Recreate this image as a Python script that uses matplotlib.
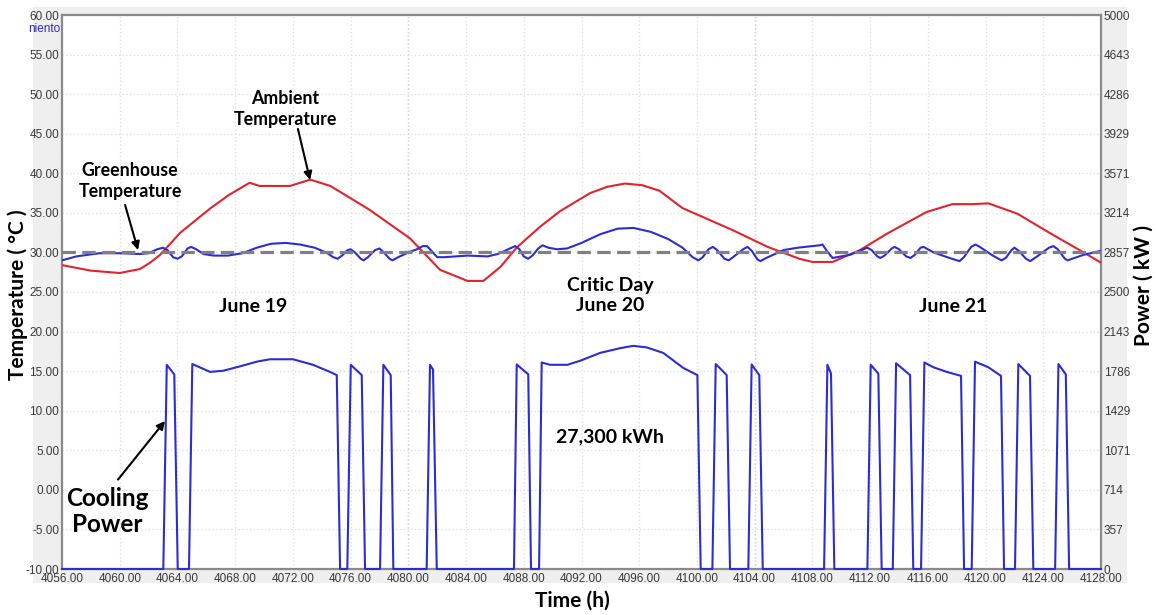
import matplotlib
matplotlib.use("Agg")
import matplotlib.pyplot as plt
from matplotlib.patches import Rectangle

# ---------------- data ----------------
ambient_hours = [4056.0, 4058.0, 4060.0, 4061.4, 4062.1, 4062.8, 4064.2, 4066.3, 4067.6, 4069.0,
                 4069.7, 4071.8, 4073.2, 4074.6, 4077.3, 4080.1, 4082.2, 4084.1, 4085.2, 4086.4,
                 4087.5, 4089.1, 4090.5, 4092.6, 4093.8, 4095.0, 4096.2, 4097.4, 4099.0, 4102.5,
                 4104.9, 4107.1, 4108.0, 4109.4, 4111.3, 4113.2, 4115.9, 4117.7, 4119.1, 4120.2,
                 4122.2, 4124.5, 4126.8, 4128.0]
ambient_temp = [28.4, 27.7, 27.4, 27.9, 28.7, 29.7, 32.5, 35.6, 37.3, 38.8,
                38.4, 38.4, 39.2, 38.4, 35.4, 31.8, 27.8, 26.4, 26.4, 28.2,
                30.6, 33.2, 35.2, 37.5, 38.3, 38.7, 38.5, 37.8, 35.6, 32.8,
                30.7, 29.2, 28.8, 28.8, 30.3, 32.4, 35.1, 36.1, 36.1, 36.2,
                34.9, 32.4, 30.0, 28.7]

greenhouse_hours = [4056.0, 4057.0, 4058.6, 4060.0, 4061.4, 4062.0, 4062.6, 4063.0, 4063.3, 4063.7,
                    4064.0, 4064.3, 4064.7, 4064.95, 4065.3, 4065.8, 4066.5, 4067.5, 4068.5, 4069.5,
                    4070.5, 4071.5, 4072.5, 4073.5, 4074.3, 4074.8, 4075.1, 4075.4, 4075.8, 4076.0,
                    4076.3, 4076.7, 4076.9, 4077.2, 4077.7, 4078.0, 4078.3, 4078.7, 4078.9, 4079.3,
                    4080.0, 4080.6, 4081.0, 4081.3, 4081.6, 4082.0, 4082.5, 4084.1, 4085.5, 4086.2,
                    4086.8, 4087.4, 4087.7, 4088.0, 4088.3, 4088.6, 4089.0, 4089.3, 4089.7, 4090.3,
                    4091.0, 4092.0, 4093.3, 4094.5, 4095.6, 4096.8, 4098.0, 4099.0, 4099.7, 4100.1,
                    4100.4, 4100.8, 4101.1, 4101.4, 4101.9, 4102.2, 4102.5, 4103.2, 4103.5, 4103.8,
                    4104.2, 4104.4, 4104.8, 4106.0, 4107.0, 4108.5, 4108.7, 4109.0, 4109.4, 4110.6,
                    4111.3, 4111.8, 4112.1, 4112.5, 4112.7, 4113.0, 4113.5, 4113.7, 4114.0, 4114.5,
                    4114.8, 4115.1, 4115.5, 4115.7, 4116.4, 4117.5, 4118.2, 4118.5, 4119.0, 4119.3,
                    4119.6, 4120.5, 4121.1, 4121.4, 4121.8, 4122.0, 4122.3, 4122.8, 4123.1, 4123.5,
                    4124.4, 4124.7, 4125.0, 4125.5, 4125.7, 4126.0, 4126.8, 4128.0]
greenhouse_temp = [29.0, 29.5, 29.9, 29.9, 29.8, 29.9, 30.4, 30.6, 30.3, 29.4,
                   29.2, 29.5, 30.5, 30.7, 30.4, 29.8, 29.6, 29.6, 29.9, 30.6,
                   31.1, 31.2, 31.0, 30.6, 30.0, 29.4, 29.2, 29.6, 30.3, 30.4,
                   30.0, 29.2, 29.0, 29.4, 30.3, 30.5, 30.0, 29.2, 29.0, 29.4,
                   30.0, 30.4, 30.8, 30.8, 30.2, 29.4, 29.4, 29.6, 29.5, 29.8,
                   30.3, 30.8, 30.4, 29.5, 29.2, 29.6, 30.5, 30.9, 30.6, 30.4,
                   30.5, 31.2, 32.3, 33.0, 33.1, 32.6, 31.7, 30.6, 29.4, 29.0,
                   29.4, 30.4, 30.7, 30.3, 29.2, 29.0, 29.4, 30.4, 30.7, 30.2,
                   29.1, 28.9, 29.3, 30.3, 30.6, 30.9, 31.0, 30.2, 29.3, 29.7,
                   30.2, 30.6, 30.3, 29.5, 29.3, 29.6, 30.5, 30.7, 30.4, 29.5,
                   29.3, 29.7, 30.6, 30.7, 30.0, 29.3, 28.9, 29.4, 30.7, 31.0,
                   30.7, 29.6, 29.0, 29.3, 30.3, 30.6, 30.2, 29.2, 28.9, 29.4,
                   30.6, 30.8, 30.4, 29.2, 29.0, 29.2, 29.7, 30.2]

setpoint_temp = 30.0

power_hours = [4056.0,
               4063.02, 4063.26, 4063.78, 4064.02,
               4064.80, 4065.03, 4066.26, 4067.16, 4068.34, 4069.49, 4070.41, 4072.01, 4073.39, 4074.57, 4075.04, 4075.27,
               4075.77, 4076.01, 4076.77, 4077.00,
               4078.04, 4078.27, 4078.78, 4078.96,
               4081.27, 4081.50, 4081.71, 4081.97,
               4087.32, 4087.51, 4088.31, 4088.50,
               4089.06, 4089.24, 4089.82, 4091.02, 4091.90, 4093.28, 4094.67, 4095.59, 4096.52, 4097.67, 4099.06, 4100.03, 4100.26,
               4101.07, 4101.30, 4102.06, 4102.29,
               4103.56, 4103.79, 4104.32, 4104.56,
               4108.81, 4109.04, 4109.29, 4109.52,
               4111.81, 4112.04, 4112.57, 4112.80,
               4113.57, 4113.80, 4114.77, 4114.99,
               4115.53, 4115.76, 4116.38, 4117.31, 4118.30, 4118.51,
               4119.04, 4119.27, 4120.19, 4121.07, 4121.28,
               4122.04, 4122.27, 4123.08, 4123.31,
               4124.82, 4125.05, 4125.56, 4125.79,
               4128.0]
power_kw = [0,
            0, 1843, 1757, 0,
            0, 1850, 1779, 1789, 1829, 1871, 1893, 1893, 1843, 1779, 1750, 0,
            0, 1843, 1750, 0,
            0, 1843, 1750, 0,
            0, 1843, 1800, 0,
            0, 1846, 1757, 0,
            0, 1864, 1843, 1843, 1879, 1950, 1993, 2014, 2000, 1950, 1814, 1750, 0,
            0, 1850, 1750, 0,
            0, 1846, 1750, 0,
            0, 1843, 1764, 0,
            0, 1843, 1764, 0,
            0, 1857, 1750, 0,
            0, 1864, 1821, 1779, 1743, 0,
            0, 1871, 1821, 1743, 0,
            0, 1850, 1743, 0,
            0, 1850, 1757, 0,
            0]

x_ticks = [4056, 4060, 4064, 4068, 4072, 4076, 4080, 4084, 4088, 4092, 4096, 4100,
           4104, 4108, 4112, 4116, 4120, 4124, 4128]
temp_ticks = [-10, -5, 0, 5, 10, 15, 20, 25, 30, 35, 40, 45, 50, 55, 60]
power_tick_labels = ["0", "357", "714", "1071", "1429", "1786", "2143", "2500", "2857",
                     "3214", "3571", "3929", "4286", "4643", "5000"]
day_boundaries = [4080, 4104]

# ---------------- styling ----------------
RED = "#e3232b"
BLUE = "#2c2cd6"
TICK_FONT = "Liberation Sans"
ANN_FONT = "Lato"

W, H = 1158, 615
fig = plt.figure(figsize=(W / 100, H / 100), dpi=100, facecolor="white")

# gray panel behind axes
fig.patches.append(Rectangle((33 / W, 1 - 583 / H), (1127 - 33) / W, (583 - 7) / H,
                             transform=fig.transFigure, facecolor="#efefef",
                             edgecolor="none", zorder=-10))

ax = fig.add_axes([62 / W, 1 - 569 / H, (1101 - 62) / W, (569 - 15) / H])
ax.set_zorder(1)
ax.set_facecolor("white")
ax.set_xlim(4056, 4128)
ax.set_ylim(-10, 60)
ax.set_xticks(x_ticks)
ax.set_xticklabels([f"{t:.2f}" for t in x_ticks])
ax.set_yticks(temp_ticks)
ax.set_yticklabels([f"{t:.2f}" for t in temp_ticks])
ax.tick_params(axis="both", length=0, labelsize=8.5, labelcolor="#3a3a3a")
ax.tick_params(axis="x", pad=3)
ax.tick_params(axis="y", pad=2)
for lab in ax.get_xticklabels() + ax.get_yticklabels():
    lab.set_fontfamily(TICK_FONT)
ax.grid(True, color="#dcdcdc", linestyle=(0, (1, 2)), linewidth=0.9)
for s in ax.spines.values():
    s.set_color("#8a8a8a")
    s.set_linewidth(1.6)

for d in day_boundaries:
    ax.axvline(d, color="#a8a8a8", linestyle=(0, (1, 2)), linewidth=0.9, zorder=1)

ax.plot(ambient_hours, ambient_temp, color=RED, lw=1.5, zorder=3, solid_joinstyle="round")
ax.plot(greenhouse_hours, greenhouse_temp, color=BLUE, lw=1.5, zorder=3, solid_joinstyle="round")
ax.axhline(setpoint_temp, color="#808080", lw=2.3, linestyle=(0, (4.2, 2)), zorder=4)

ax2 = ax.twinx()
ax2.set_ylim(0, 5000)
ax2.set_yticks([i * 5000 / 14 for i in range(15)])
ax2.set_yticklabels(power_tick_labels)
ax2.tick_params(axis="y", length=0, labelsize=8.5, labelcolor="#3a3a3a", pad=2)
for lab in ax2.get_yticklabels():
    lab.set_fontfamily(TICK_FONT)
for s in ax2.spines.values():
    s.set_visible(False)
ax2.plot(power_hours, power_kw, color=BLUE, lw=1.5, zorder=3, clip_on=False)

# annotations
tkw = dict(fontfamily=ANN_FONT, fontweight="bold", color="black", ha="center", va="center")
ax.text(4071.45, 48.1, "Ambient\nTemperature", fontsize=12.8, linespacing=1.3, **tkw)
ax.annotate("", xy=(4073.19, 39.15), xytext=(4072.35, 45.6),
            arrowprops=dict(arrowstyle="-|>", color="black", lw=1.5, mutation_scale=12,
                            shrinkA=0, shrinkB=0))
ax.text(4060.71, 39.0, "Greenhouse\nTemperature", fontsize=12.8, linespacing=1.3, **tkw)
ax.annotate("", xy=(4061.27, 30.3), xytext=(4060.37, 36.0),
            arrowprops=dict(arrowstyle="-|>", color="black", lw=1.5, mutation_scale=12,
                            shrinkA=0, shrinkB=0))
ax.text(4069.24, 23.2, "June 19", fontsize=14, **tkw)
ax.text(4093.98, 24.6, "Critic Day\nJune 20", fontsize=14, linespacing=1.2, **tkw)
ax.text(4117.75, 23.2, "June 21", fontsize=14, **tkw)
ax.text(4093.98, 6.7, "27,300 kWh", fontsize=14, **tkw)
ax.text(4059.12, -2.7, "Cooling\nPower", fontsize=17.5, linespacing=1.15, **tkw)
ax.annotate("", xy=(4063.14, 8.7), xytext=(4059.88, 1.3),
            arrowprops=dict(arrowstyle="-|>", color="black", lw=1.5, mutation_scale=12,
                            shrinkA=0, shrinkB=0))

fig.text(60 / W, 1 - 29 / H, "niento", fontsize=8.5, color="#2b2bd0", ha="right",
         va="center", fontfamily=TICK_FONT)

fig.text(18 / W, 1 - 295 / H, "Temperature ( °C )", rotation=90, fontsize=15,
         fontfamily=ANN_FONT, fontweight="bold", ha="center", va="center")
fig.text(1144 / W, 1 - 285 / H, "Power ( kW )", rotation=90, fontsize=15,
         fontfamily=ANN_FONT, fontweight="bold", ha="center", va="center")
fig.text(572 / W, 1 - 601 / H, "Time (h)", fontsize=15,
         fontfamily=ANN_FONT, fontweight="bold", ha="center", va="center")

fig.savefig("out.png", dpi=100, facecolor="white")
